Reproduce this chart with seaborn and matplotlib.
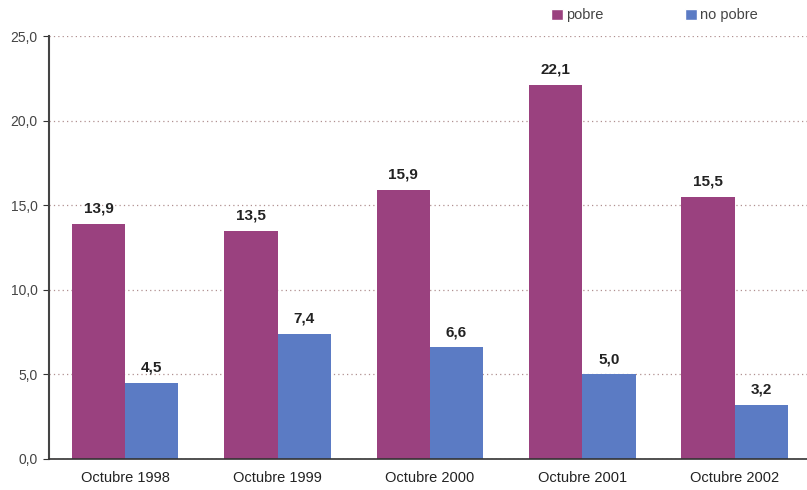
import matplotlib
matplotlib.use('Agg')
import matplotlib.pyplot as plt
import pandas as pd
import seaborn as sns
from matplotlib.patches import Patch
from matplotlib.ticker import FixedLocator, FuncFormatter

# Data
periods = ['Octubre 1998', 'Octubre 1999', 'Octubre 2000', 'Octubre 2001', 'Octubre 2002']
pobre = [13.9, 13.5, 15.9, 22.1, 15.5]
no_pobre = [4.5, 7.4, 6.6, 5.0, 3.2]
series = ['pobre', 'no pobre']
colors = ['#9a417f', '#5b7bc4']

df = pd.DataFrame({
    'periodo': periods * 2,
    'grupo': [series[0]] * len(periods) + [series[1]] * len(periods),
    'valor': pobre + no_pobre,
})

sns.set_style('white')
plt.rcParams['font.family'] = ['Liberation Sans', 'DejaVu Sans']

fig = plt.figure(figsize=(8.07, 4.90), dpi=100)
ax = fig.add_axes([0.0607, 0.0633, 0.944, 0.863])

sns.barplot(df, x='periodo', y='valor', hue='grupo', order=periods,
            hue_order=series, palette=colors, width=0.7, saturation=1,
            linewidth=0, legend=False, ax=ax)

# value labels, comma decimals
for cont in ax.containers:
    ax.bar_label(cont, labels=[f'{v:.1f}'.replace('.', ',') for v in cont.datavalues],
                 padding=6, fontsize=11, fontweight='bold', color='#222222')

ax.set_ylim(0, 25)
ax.set_xlim(-0.5, 4.5)
ax.set_yticks([0, 5, 10, 15, 20, 25])
ax.yaxis.set_major_formatter(FuncFormatter(lambda v, p: f'{v:.1f}'.replace('.', ',')))
ax.yaxis.grid(True, linestyle=(0, (1, 2.5)), color='#b09090', linewidth=0.9)
ax.set_axisbelow(True)
ax.set_xlabel('')
ax.set_ylabel('')

# ticks between categories on x
ax.xaxis.set_minor_locator(FixedLocator([0.5, 1.5, 2.5, 3.5]))
ax.tick_params(axis='x', which='major', length=0, labelsize=10.5, labelcolor='#222222', pad=9)
ax.tick_params(axis='x', which='minor', length=4, color='#333333', direction='out')
ax.tick_params(axis='y', length=4, color='#333333', direction='out', labelsize=10,
               labelcolor='#444444', pad=4)
ax.tick_params(axis='both', bottom=True, left=True)
ax.tick_params(axis='x', which='major', bottom=False)

for side in ['top', 'right']:
    ax.spines[side].set_visible(False)
ax.spines['left'].set_color('#444444')
ax.spines['left'].set_linewidth(1.5)
ax.spines['bottom'].set_color('#333333')
ax.spines['bottom'].set_linewidth(1.2)

handles = [Patch(facecolor=c, label=s) for c, s in zip(colors, series)]
fig.legend(handles=handles, loc='upper left', bbox_to_anchor=(0.667, 1.01), ncol=2,
           frameon=False, handlelength=0.8, handleheight=0.8, handletextpad=0.2,
           columnspacing=5.6, fontsize=10.5, labelcolor='#444444')

fig.savefig('out.png', dpi=100)
